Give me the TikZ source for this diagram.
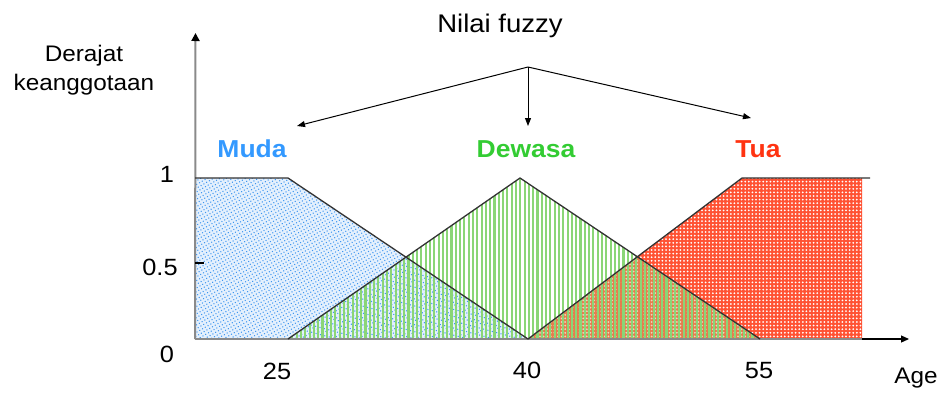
\documentclass[tikz,border=0pt]{standalone}
\usepackage{fontspec}
\setmainfont{Liberation Sans}[FakeStretch=1.08]
\usetikzlibrary{arrows.meta,patterns.meta}
\definecolor{mudaText}{HTML}{3399FF}
\definecolor{mudaDot}{HTML}{3F96F0}
\definecolor{mudaBg}{HTML}{E4F0FD}
\definecolor{dewText}{HTML}{33CC33}
\definecolor{dewLine}{HTML}{8AD676}
\definecolor{olive}{HTML}{C8B070}
\definecolor{tuaText}{HTML}{FF3311}
\definecolor{tuaFill}{HTML}{FF5233}
\definecolor{mfLine}{HTML}{333333}
\definecolor{axisGray}{HTML}{8A8A8A}
\tikzset{
  lbl/.style={anchor=base, inner sep=0pt, font=\fontsize{22.5}{27}\selectfont},
  num/.style={anchor=base, inner sep=0pt, font=\fontsize{23.5}{28}\selectfont},
  setlbl/.style={anchor=base, inner sep=0pt, font=\fontsize{24.5}{29}\selectfont\bfseries},
  mfline/.style={draw=mfLine, line width=1.3pt, line join=round},
  axisline/.style={draw=axisGray, line width=2pt},
  fzarrow/.style={draw=black, line width=1pt, -{Triangle[length=8pt,width=6pt]}},
}
\begin{document}
\begin{tikzpicture}[x=1pt,y=-1pt]
\useasboundingbox (0,0) rectangle (944,394);
% key coordinates
\coordinate (o) at (195,339);
\coordinate (ytop) at (195.5,33);
\coordinate (xend) at (862,339);
\coordinate (xtip) at (909,339);
\coordinate (m1) at (195,178);
\coordinate (m2) at (288,178);
\coordinate (m3) at (528,339);
\coordinate (d1) at (288,339);
\coordinate (d2) at (520,178);
\coordinate (d3) at (760,339);
\coordinate (t1) at (528,339);
\coordinate (t2) at (742,178);
\coordinate (t3) at (870,178);
\coordinate (tr) at (862,178);
\coordinate (dt) at (637,257);
% Muda fill
\fill[mudaBg] (m1) -- (m2) -- (m3) -- (o) -- cycle;
\fill[pattern={Dots[distance=3.2pt, radius=0.75pt, angle=30]}, pattern color=mudaDot] (m1) -- (m2) -- (m3) -- (o) -- cycle;
% Tua fill
\fill[tuaFill] (t1) -- (t2) -- (tr) -- (xend) -- cycle;
\fill[pattern={Dots[distance=3.6pt, radius=1pt]}, pattern color=white] (t1) -- (t2) -- (tr) -- (xend) -- cycle;
% overlap tint Dewasa/Tua
\fill[olive, opacity=0.45] (t1) -- (dt) -- (d3) -- cycle;
% Dewasa fill
\fill[pattern={Lines[angle=90, distance=4.3pt, line width=2.1pt]}, pattern color=dewLine] (d1) -- (d2) -- (d3) -- cycle;
% axes
\draw[axisline] (o) -- (xend);
\draw[draw=black, line width=1.2pt, -{Triangle[length=8pt,width=7pt]}] (xend) -- (xtip);
\draw[axisline, -{Triangle[length=8pt,width=8pt,color=black]}] (o) -- (ytop);
\coordinate (tick0) at (195,263);
\coordinate (tick1) at (204,263);
\draw[black, line width=1.2pt] (tick0) -- (tick1);
% membership functions
\draw[mfline] (m1) -- (m2) -- (m3);
\draw[mfline] (d1) -- (d2) -- (d3);
\draw[mfline] (t1) -- (t2) -- (t3);
% labels
\node[lbl, font=\fontsize{25.5}{30}\selectfont] (nilai) at (500,32) {Nilai fuzzy};
\node[lbl] (derajat) at (84,61) {Derajat};
\node[lbl] (keang) at (84,90.7) {keanggotaan};
\node[setlbl, text=mudaText] (muda) at (252,157) {Muda};
\node[setlbl, text=dewText] (dewasa) at (526,157) {Dewasa};
\node[setlbl, text=tuaText] (tua) at (758,157) {Tua};
\node[num] (y1) at (167,182) {1};
\node[num] (yh) at (160,275) {0.5};
\node[num] (y0) at (167,362) {0};
\node[num] (x25) at (277,379) {25};
\node[num] (x40) at (527,378) {40};
\node[num] (x55) at (759,378) {55};
\node[lbl] (age) at (916,383) {Age};
% fuzzy arrows
\coordinate (src) at (528,67);
\coordinate (am) at (297,126);
\coordinate (ad) at (528,126);
\coordinate (at) at (751,118);
\draw[fzarrow] (src) -- (am);
\draw[fzarrow] (src) -- (ad);
\draw[fzarrow] (src) -- (at);
\end{tikzpicture}
\end{document}
